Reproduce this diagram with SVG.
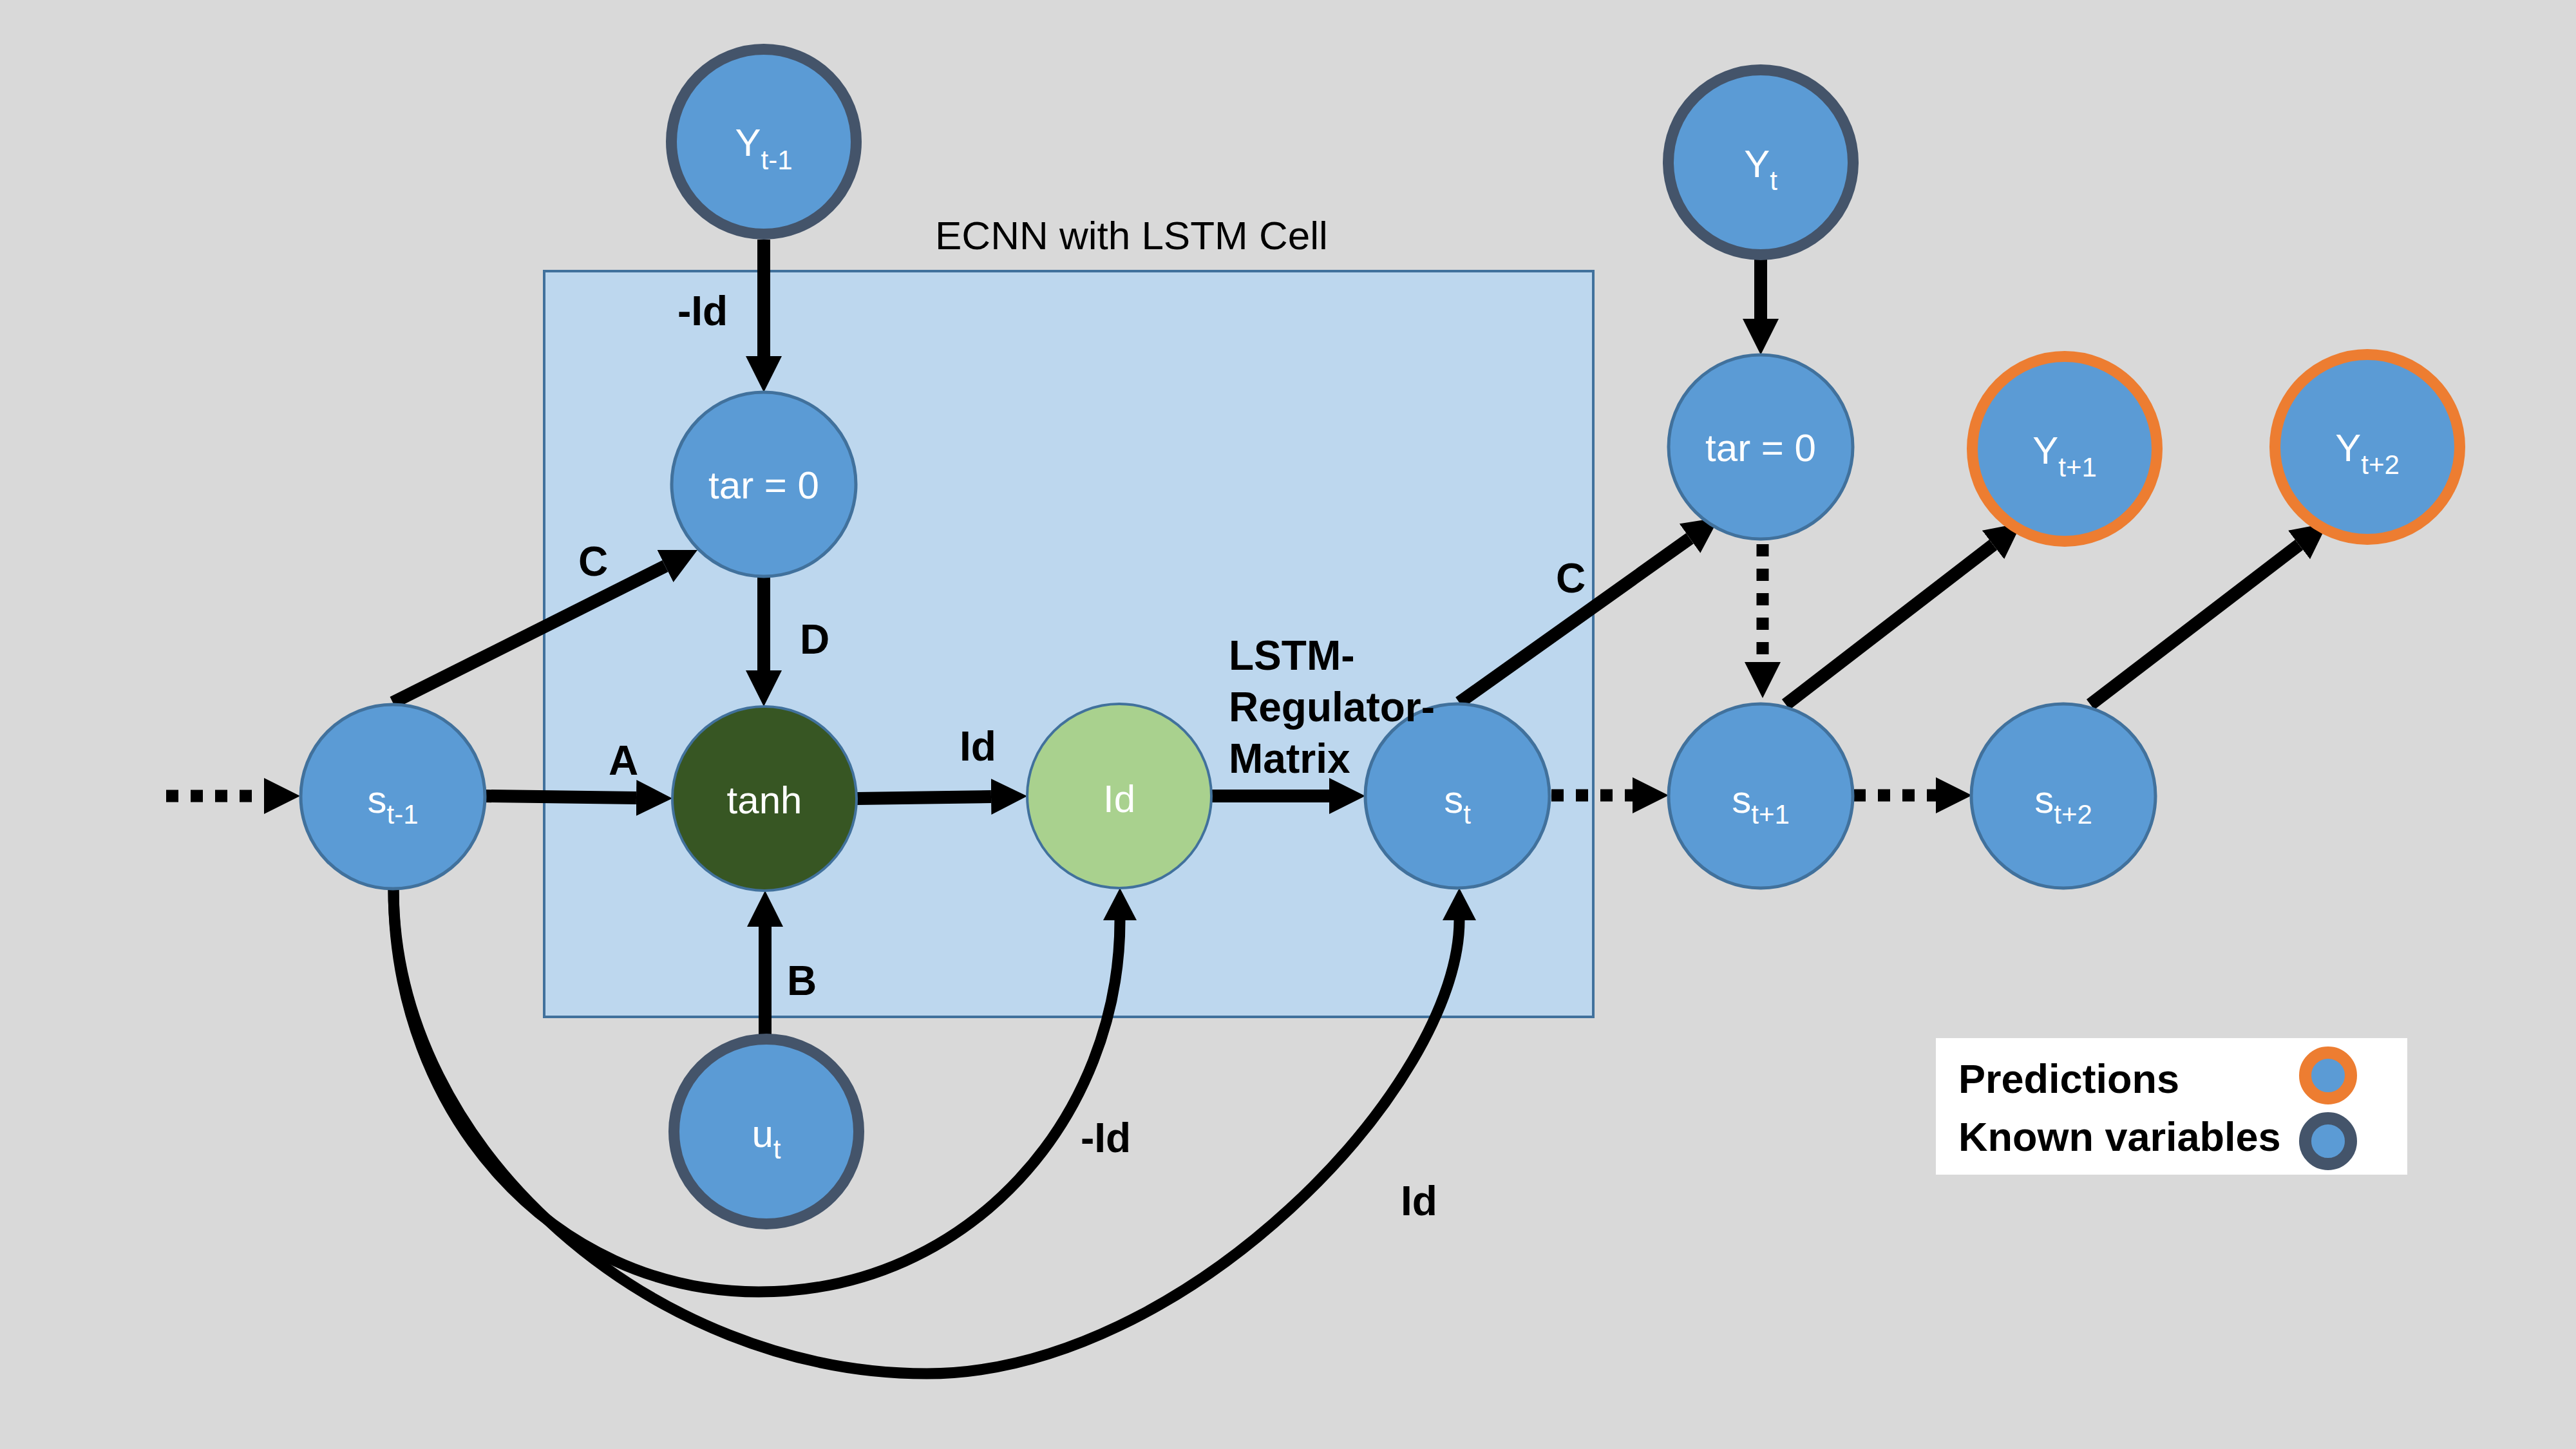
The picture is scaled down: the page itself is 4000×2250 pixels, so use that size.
<svg xmlns="http://www.w3.org/2000/svg" width="4000" height="2250" viewBox="0 0 4000 2250">
<defs>
<style>
.node{fill:#5b9bd5;stroke:#41719c;stroke-width:5}
.known{fill:#5b9bd5;stroke:#44546a;stroke-width:17}
.pred{fill:#5b9bd5;stroke:#ed7d31;stroke-width:17}
.nl{font-family:"Liberation Sans",Arial,sans-serif;font-size:60px;fill:#ffffff;text-anchor:middle}
.sub{font-size:42px}
.el{font-family:"Liberation Sans",Arial,sans-serif;font-size:64px;font-weight:bold;fill:#000000}
.ln{fill:none;stroke:#000000;stroke-width:20;marker-end:url(#ah)}
.dl{fill:none;stroke:#000000;stroke-width:19;stroke-dasharray:19 19;marker-end:url(#ah)}
.cv{fill:none;stroke:#000000;stroke-width:17;marker-end:url(#ahs)}
</style>
<marker id="ah" markerUnits="userSpaceOnUse" markerWidth="56" markerHeight="56" refX="0" refY="28" orient="auto" viewBox="0 0 56 56"><path d="M0,0 L56,28 L0,56 z" fill="#000000"/></marker>
<marker id="ahs" markerUnits="userSpaceOnUse" markerWidth="50" markerHeight="52" refX="0" refY="26" orient="auto" viewBox="0 0 50 52"><path d="M0,0 L50,26 L0,52 z" fill="#000000"/></marker>
</defs>
<rect x="0" y="0" width="4000" height="2250" fill="#d9d9d9"/>
<g id="lstm-cell-box">
<rect x="845" y="421" width="1629" height="1158" fill="#bdd7ee" stroke="#41719c" stroke-width="4"/>
<text x="1452" y="387" font-family="Liberation Sans, Arial, sans-serif" font-size="62" fill="#000000">ECNN with LSTM Cell</text>
</g>
<g id="connectors">
<path class="ln" d="M1186 372 L1186 553"/>
<path class="ln" d="M1186 895 L1186 1041"/>
<path class="ln" d="M610 1091 L1033 879"/>
<path class="ln" d="M754 1236 L988 1239"/>
<path class="ln" d="M1188 1607 L1188 1439"/>
<path class="ln" d="M1330 1240 L1539 1237"/>
<path class="ln" d="M1882 1236 L2064 1236"/>
<path class="ln" d="M2266 1091 L2624 836"/>
<path class="ln" d="M2734 396 L2734 495"/>
<path class="dl" d="M2737 845 L2737 1028"/>
<path class="ln" d="M2773 1094 L3095 846"/>
<path class="ln" d="M3246 1094 L3570 846"/>
<path class="dl" d="M258 1236 L410 1236"/>
<path class="dl" d="M2409 1235 L2535 1235"/>
<path class="dl" d="M2878 1235 L3006 1235"/>
<path class="cv" d="M611 1380 C611 1730 858 2006 1178 2006 C1508 2006 1739 1732 1739 1429"/>
<path class="cv" d="M611 1380 C611 1790 1019 2133 1439 2133 C1839 2133 2266 1686 2266 1429"/>
</g>
<g id="node-y-t-1">
<circle class="known" cx="1186" cy="220" r="143.5"/>
<text class="nl" x="1186" y="242">Y<tspan class="sub" dy="21">t-1</tspan></text>
</g>
<g id="node-tar-left">
<circle class="node" cx="1186" cy="752" r="143"/>
<text class="nl" x="1186" y="774">tar = 0</text>
</g>
<g id="node-s-t-1">
<circle class="node" cx="610" cy="1237" r="143"/>
<text class="nl" x="610" y="1262">s<tspan class="sub" dy="17">t-1</tspan></text>
</g>
<g id="node-tanh">
<circle cx="1187" cy="1240" r="143" fill="#375623" stroke="#41719c" stroke-width="4"/>
<text class="nl" x="1187" y="1263" font-size="66">tanh</text>
</g>
<g id="node-id">
<circle cx="1738" cy="1236" r="143" fill="#a9d18e" stroke="#41719c" stroke-width="4"/>
<text class="nl" x="1738" y="1261" font-size="62">Id</text>
</g>
<g id="node-s-t">
<circle class="node" cx="2263" cy="1236" r="143"/>
<text class="nl" x="2263" y="1262">s<tspan class="sub" dy="17">t</tspan></text>
</g>
<g id="node-u-t">
<circle class="known" cx="1190" cy="1757" r="143.5"/>
<text class="nl" x="1190" y="1781">u<tspan class="sub" dy="18">t</tspan></text>
</g>
<g id="node-y-t">
<circle class="known" cx="2734" cy="252" r="143.5"/>
<text class="nl" x="2734" y="275">Y<tspan class="sub" dy="20">t</tspan></text>
</g>
<g id="node-tar-right">
<circle class="node" cx="2734" cy="694" r="143"/>
<text class="nl" x="2734" y="716">tar = 0</text>
</g>
<g id="node-y-t1">
<circle class="pred" cx="3206" cy="697" r="143.5"/>
<text class="nl" x="3206" y="720">Y<tspan class="sub" dy="20">t+1</tspan></text>
</g>
<g id="node-y-t2">
<circle class="pred" cx="3676" cy="694" r="143.5"/>
<text class="nl" x="3676" y="716">Y<tspan class="sub" dy="20">t+2</tspan></text>
</g>
<g id="node-s-t1">
<circle class="node" cx="2734" cy="1236" r="143"/>
<text class="nl" x="2734" y="1262">s<tspan class="sub" dy="17">t+1</tspan></text>
</g>
<g id="node-s-t2">
<circle class="node" cx="3204" cy="1236" r="143"/>
<text class="nl" x="3204" y="1262">s<tspan class="sub" dy="17">t+2</tspan></text>
</g>
<g id="edge-labels">
<text class="el" x="1052" y="505">-Id</text>
<text class="el" x="898" y="894">C</text>
<text class="el" x="1242" y="1015">D</text>
<text class="el" x="945" y="1203">A</text>
<text class="el" x="1490" y="1181">Id</text>
<text class="el" x="1222" y="1545">B</text>
<text class="el" x="1678" y="1789">-Id</text>
<text class="el" x="2175" y="1887">Id</text>
<text class="el" x="2416" y="920">C</text>
<text class="el" x="1908" y="1040" font-size="56">LSTM-</text>
<text class="el" x="1908" y="1120" font-size="56">Regulator-</text>
<text class="el" x="1908" y="1200" font-size="56">Matrix</text>
</g>
<g id="legend">
<rect x="3006" y="1612" width="732" height="212" fill="#ffffff"/>
<text x="3041" y="1697" font-family="Liberation Sans, Arial, sans-serif" font-size="63" font-weight="bold" fill="#000000">Predictions</text>
<text x="3041" y="1787" font-family="Liberation Sans, Arial, sans-serif" font-size="63" font-weight="bold" fill="#000000">Known variables</text>
<circle cx="3615" cy="1670" r="35.5" fill="#5b9bd5" stroke="#ed7d31" stroke-width="19"/>
<circle cx="3615" cy="1772" r="35.5" fill="#5b9bd5" stroke="#44546a" stroke-width="19"/>
</g>
</svg>
